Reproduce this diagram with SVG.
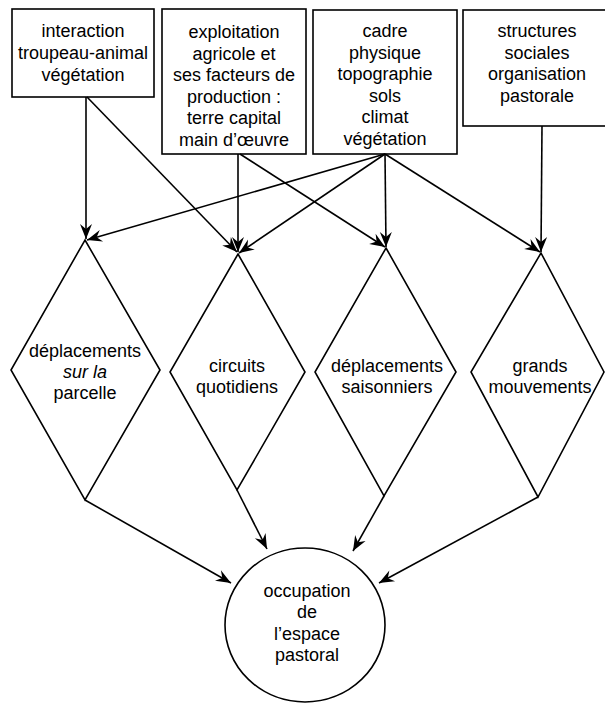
<svg xmlns="http://www.w3.org/2000/svg" width="605" height="703" viewBox="0 0 605 703">
<style>
.box{fill:#fff;stroke:#000;stroke-width:1.6}
.shape{fill:none;stroke:#000;stroke-width:1.6}
.t{font-family:"Liberation Sans",Arial,sans-serif;font-size:18px;fill:#000;text-anchor:middle}
.c line{stroke:#000;stroke-width:1.6;marker-end:url(#ah)}
</style>
<defs>
<marker id="ah" viewBox="-16 -7 17 14" refX="0" refY="0" markerWidth="17" markerHeight="14" markerUnits="userSpaceOnUse" orient="auto">
<path d="M0,0 L-15,-6 L-10,0 L-15,6 Z" fill="#000"/>
</marker>
</defs>
<rect width="605" height="703" fill="#fff"/>
<g id="box1">
<rect class="box" x="12" y="9" width="142" height="88"/>
<text class="t" x="83" y="37">interaction</text>
<text class="t" x="83" y="59">troupeau-animal</text>
<text class="t" x="83" y="81">végétation</text>
</g>
<g id="box2">
<rect class="box" x="162" y="9" width="144" height="145"/>
<text class="t" x="234" y="38">exploitation</text>
<text class="t" x="234" y="59.5">agricole et</text>
<text class="t" x="234" y="81">ses facteurs de</text>
<text class="t" x="234" y="102.5">production :</text>
<text class="t" x="234" y="124">terre capital</text>
<text class="t" x="234" y="145.5">main d’œuvre</text>
</g>
<g id="box3">
<rect class="box" x="313" y="10" width="144" height="144"/>
<text class="t" x="385" y="37">cadre</text>
<text class="t" x="385" y="58.5">physique</text>
<text class="t" x="385" y="80">topographie</text>
<text class="t" x="385" y="101.5">sols</text>
<text class="t" x="385" y="123">climat</text>
<text class="t" x="385" y="144.5">végétation</text>
</g>
<g id="box4">
<rect class="box" x="463" y="10" width="150" height="116"/>
<text class="t" x="537" y="37">structures</text>
<text class="t" x="537" y="58.5">sociales</text>
<text class="t" x="537" y="80">organisation</text>
<text class="t" x="537" y="101.5">pastorale</text>
</g>
<g id="d1">
<polygon class="shape" points="85,240 160,370 85,500 11,370"/>
<text class="t" x="85" y="357">déplacements</text>
<text class="t" x="85" y="378" font-style="italic">sur la</text>
<text class="t" x="85" y="399">parcelle</text>
</g>
<g id="d2">
<polygon class="shape" points="238,254 305,372 237,490 170,372"/>
<text class="t" x="237" y="372">circuits</text>
<text class="t" x="237" y="393">quotidiens</text>
</g>
<g id="d3">
<polygon class="shape" points="386,248 456,372 384,496 315,372"/>
<text class="t" x="387" y="372">déplacements</text>
<text class="t" x="387" y="393">saisonniers</text>
</g>
<g id="d4">
<polygon class="shape" points="541,253 604,372 538,497 471,372"/>
<text class="t" x="540" y="372">grands</text>
<text class="t" x="540" y="393">mouvements</text>
</g>
<g id="circle">
<ellipse class="shape" cx="305" cy="625" rx="80" ry="77"/>
<text class="t" x="307" y="597">occupation</text>
<text class="t" x="307" y="618">de</text>
<text class="t" x="307" y="640">l’espace</text>
<text class="t" x="307" y="661">pastoral</text>
</g>
<g id="connectors" class="c">
<line x1="86" y1="97" x2="86" y2="239"/>
<line x1="87" y1="97" x2="237" y2="252"/>
<line x1="238" y1="154" x2="238" y2="252"/>
<line x1="240" y1="154" x2="385" y2="247"/>
<line x1="385" y1="154" x2="87" y2="240"/>
<line x1="385" y1="154" x2="239" y2="253"/>
<line x1="385" y1="154" x2="386" y2="247"/>
<line x1="385" y1="154" x2="540" y2="252"/>
<line x1="542" y1="126" x2="541" y2="252"/>
<line x1="85" y1="500" x2="231" y2="583"/>
<line x1="237" y1="490" x2="267" y2="549"/>
<line x1="384" y1="496" x2="353" y2="551"/>
<line x1="538" y1="497" x2="379" y2="583"/>
</g>
</svg>
